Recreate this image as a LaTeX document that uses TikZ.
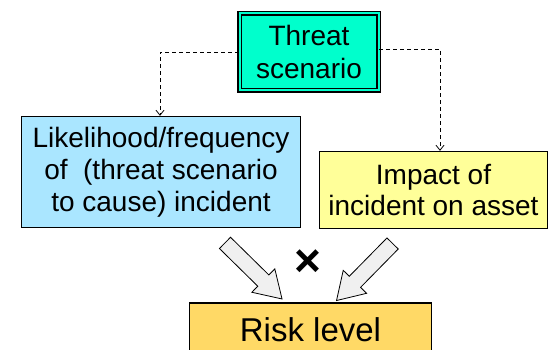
\documentclass[tikz,border=0pt]{standalone}
\usepackage{fontspec}
\setmainfont{Liberation Sans}
\usetikzlibrary{arrows.meta,shapes.arrows}
\tikzset{>={Straight Barb[length=5pt,width=8pt]}}

\definecolor{threatcol}{RGB}{0,255,204}
\definecolor{likcol}{RGB}{170,230,255}
\definecolor{impcol}{RGB}{255,255,153}
\definecolor{riskcol}{RGB}{255,217,102}

\begin{document}
\begin{tikzpicture}[x=1pt,y=1pt,
    box/.style={draw,line width=1.3pt,align=center,inner sep=0pt},
    link/.style={->,dashed,dash pattern=on 4pt off 3pt,line width=0.8pt},
    bigarrow/.style={single arrow,draw,line width=0.8pt,fill=black!6,
      minimum height=80pt,inner xsep=0pt,inner ysep=7.5pt,
      single arrow head extend=8.5pt,single arrow tip angle=64}]
      \useasboundingbox (0,0) rectangle (550,349);

      \node[box,fill=threatcol,double=threatcol,line width=1.2pt,double distance=2pt,
        minimum width=139pt,minimum height=77pt,font=\fontsize{28}{33}\selectfont]
        (threat) at (309,297) {Threat\\scenario};
      \node[box,fill=likcol,minimum width=279pt,minimum height=111pt,
        font=\fontsize{28}{32}\selectfont]
        (lik) at (161,177) {Likelihood/frequency\\of~ (threat scenario\\to cause) incident};
      \node[box,fill=impcol,minimum width=228pt,minimum height=77pt,
        font=\fontsize{28}{31}\selectfont]
        (imp) at (433.5,159) {Impact of\\incident on asset};
      \node[box,fill=riskcol,minimum width=242pt,minimum height=54pt,
        font=\fontsize{33}{36}\selectfont]
        (risk) at (310.5,19) {Risk level};

      \draw[link] (threat.west) -| ([xshift=-1pt]lik.north);
      \draw[link] ([yshift=3pt]threat.east) -| ([xshift=6.5pt]imp.north);

      \node[bigarrow,rotate=-44.5] (larr) at (249,82.5) {};
      \node[bigarrow,rotate=225.5] (rarr) at (369,81.5) {};
      \node (times) at (308,86) {\fontsize{46}{46}\selectfont\bfseries ×};
    \end{tikzpicture}
\end{document}
